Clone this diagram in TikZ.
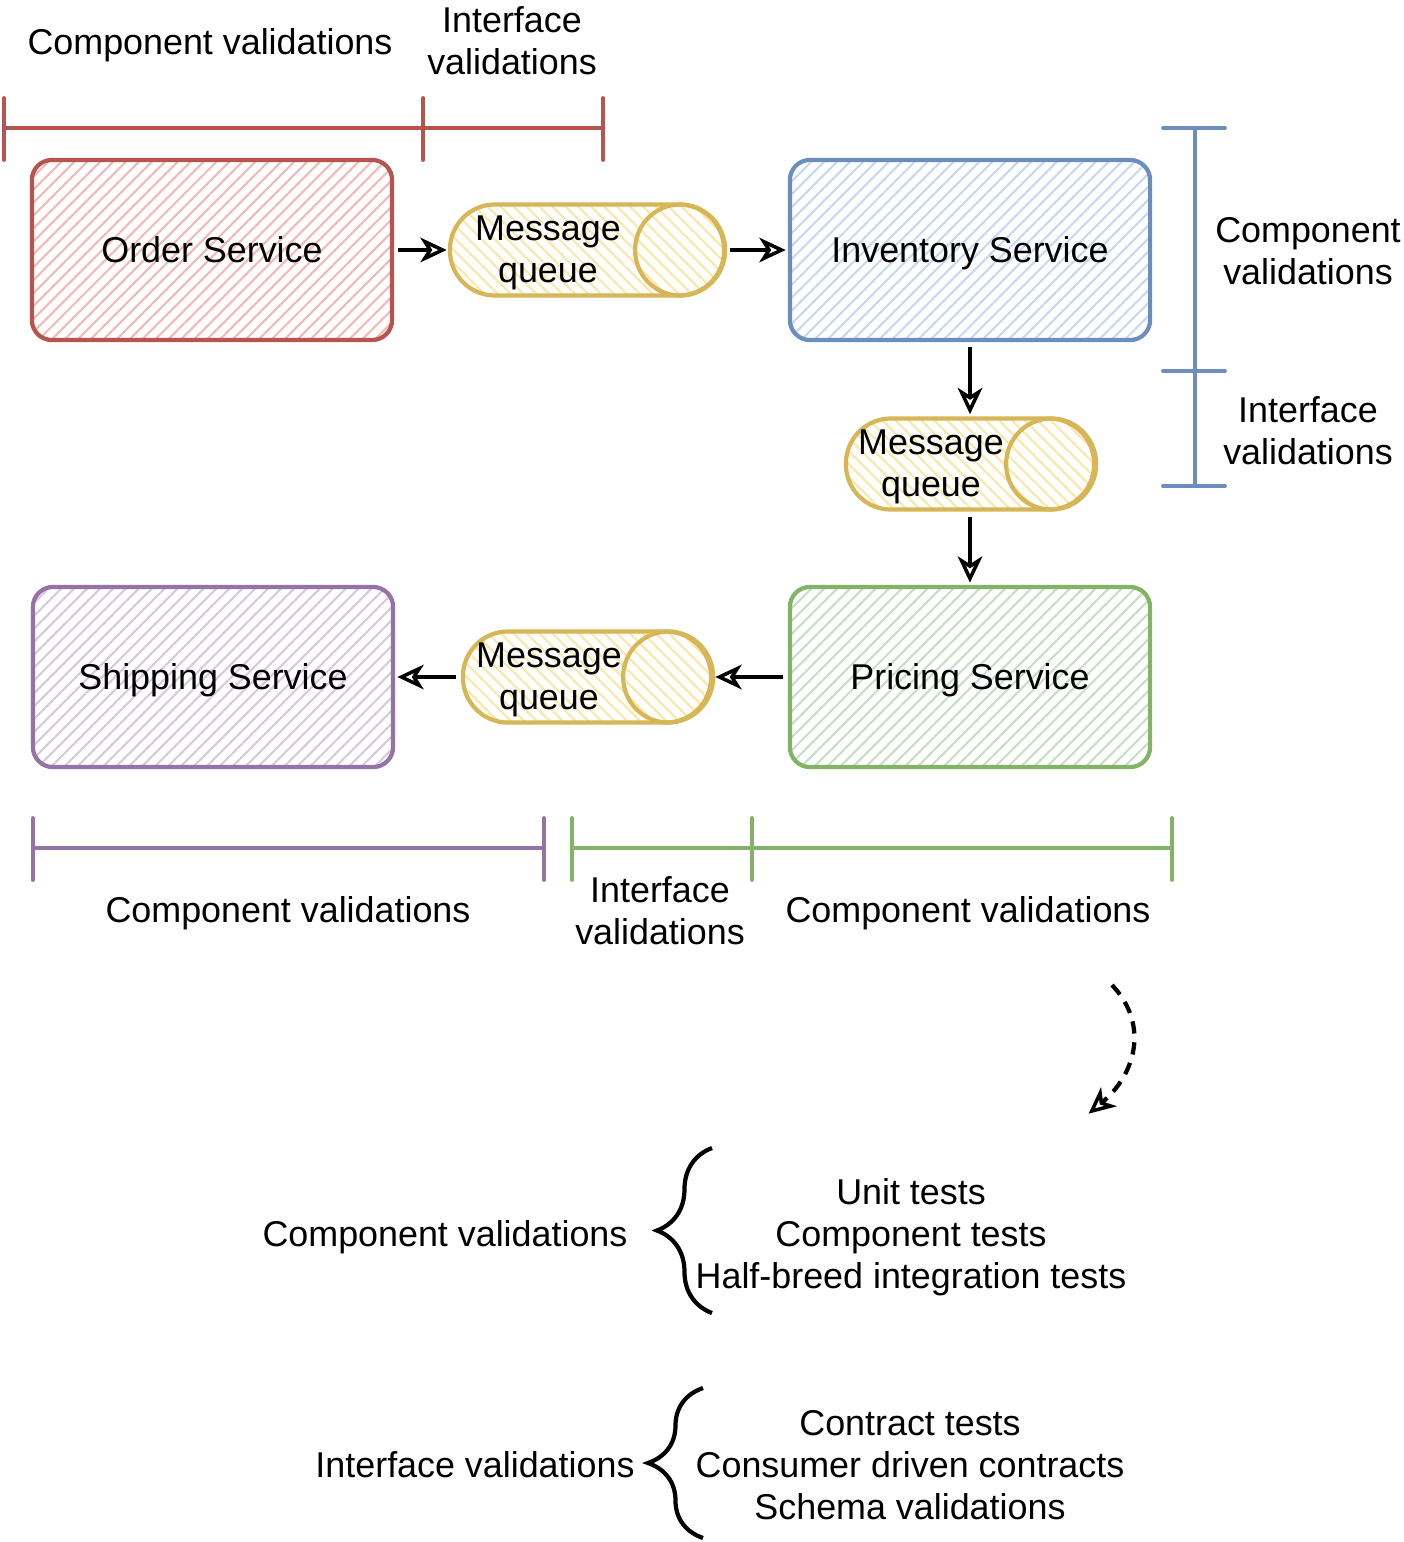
\documentclass[tikz,border=0pt]{standalone}
\usepackage{fontspec}
\setmainfont{Liberation Sans}
\usetikzlibrary{patterns.meta,arrows.meta,decorations.pathreplacing}

\definecolor{redline}{HTML}{B85450}
\definecolor{redfill}{HTML}{F4B8B5}
\definecolor{blueline}{HTML}{6C8EBF}
\definecolor{bluefill}{HTML}{C4D9F5}
\definecolor{greenline}{HTML}{82B366}
\definecolor{greenfill}{HTML}{C5E0C3}
\definecolor{purpleline}{HTML}{9673A6}
\definecolor{purplefill}{HTML}{D8C8E0}
\definecolor{mqline}{HTML}{D6B656}
\definecolor{mqfill}{HTML}{FBE7A8}

\begin{document}
\begin{tikzpicture}[x=0.01cm,y=-0.01cm,
    txt/.style={font=\fontsize{10.2}{12}\selectfont, align=center, inner sep=0pt},
    lbl/.style={txt, yshift=-0.03cm},
    service/.style={draw=#1line, line width=1.2pt, rounded corners=0.2cm,
        minimum width=3.6cm, minimum height=1.8cm, txt,
        text height=7.3pt, text depth=0pt,
        pattern={Lines[angle=45,distance=2.6pt,line width=0.6pt]},
        pattern color=#1fill},
    queue/.style={draw=mqline, line width=1.2pt, rounded corners=0.45cm,
        minimum height=0.91cm, minimum width=#1, inner sep=0pt,
        pattern={Lines[angle=-45,distance=2.6pt,line width=0.6pt]},
        pattern color=mqfill},
    qend/.style={draw=mqline, line width=1.2pt},
    flow/.style={->, >={Stealth[open,inset=2.2pt,length=7.5pt,width=7pt,line width=1pt]},
        line width=1.2pt, shorten >=0.6pt, shorten <=1.5pt},
    bar/.style={line width=1.1pt, line cap=round},
    curly/.style={decorate, decoration={brace, amplitude=0.55cm},
        line width=1.2pt}]
\useasboundingbox (0,0) rectangle (1404,1542);

% services
\node[service=red] (order) at (212,250) {Order Service};
\node[service=blue] (inventory) at (970,250) {Inventory Service};
\node[service=green] (pricing) at (970,677) {Pricing Service};
\node[service=purple] (shipping) at (213,677) {Shipping Service};

% queues
\node[queue=2.74cm] (mq1) at (587,250) {};
\node[queue=2.48cm] (mq2) at (970,464) {};
\node[queue=2.48cm] (mq3) at (587,677) {};
\foreach \q in {mq1,mq2,mq3}
    \draw[qend] ([xshift=-0.45cm]\q.east) ellipse [x radius=0.45cm, y radius=0.455cm];
\node[lbl] (mq1t) at ([xshift=-0.39cm]mq1.center) {Message\\queue};
\node[lbl] (mq2t) at ([xshift=-0.39cm]mq2.center) {Message\\queue};
\node[lbl] (mq3t) at ([xshift=-0.38cm]mq3.center) {Message\\queue};

\draw[flow] (order) -- (mq1);
\draw[flow] (mq1) -- (inventory);
\draw[flow] (inventory) -- (mq2);
\draw[flow] (mq2) -- (pricing);
\draw[flow] (pricing) -- (mq3);
\draw[flow] (mq3) -- (shipping);

% red scale
\draw[bar,redline] (4,128) -- (603,128);
\foreach \x in {4,423,603}
    \draw[bar,redline] (\x,98) -- (\x,160);
\node[lbl] (topcomp) at (210,42) {Component validations};
\node[lbl] (topintf) at (512,38) {Interface\\validations};

% blue scale
\draw[bar,blueline] (1195,128) -- (1195,486);
\foreach \y in {128,371,486}
    \draw[bar,blueline] (1163,\y) -- (1225,\y);
\node[lbl] (rightcomp) at (1308,248) {Component\\validations};
\node[lbl] (rightintf) at (1308,428) {Interface\\validations};

% bottom scales
\draw[bar,purpleline] (33,848) -- (544,848);
\foreach \x in {33,544}
    \draw[bar,purpleline] (\x,818) -- (\x,880);
\draw[bar,greenline] (572,848) -- (1172,848);
\foreach \x in {572,752,1172}
    \draw[bar,greenline] (\x,818) -- (\x,880);
\node[lbl] (botcomp) at (288,910) {Component validations};
\node[lbl] (botintf) at (660,908) {Interface\\validations};
\node[lbl] (pricecomp) at (968,910) {Component validations};

% legend
\coordinate (curlA) at (1112,985);
\coordinate (curlB) at (1087,1115);
\draw[flow, dash pattern=on 3.5pt off 2.5pt, shorten <=0pt]
    (curlA) .. controls (1150,1025) and (1135,1075) .. (curlB);

\node[lbl] (compkey) at (445,1234) {Component validations};
\draw[curly] (712,1313) -- (712,1148);
\node[lbl] (complist) at (911,1234)
    {Unit tests\\Component tests\\Half-breed integration tests};

\node[lbl] (intfkey) at (475,1462) {Interface validations};
\draw[curly] (703,1538) -- (703,1388);
\node[lbl] (intflist) at (910,1462)
    {Contract tests\\Consumer driven contracts\\Schema validations};
\end{tikzpicture}
\end{document}
